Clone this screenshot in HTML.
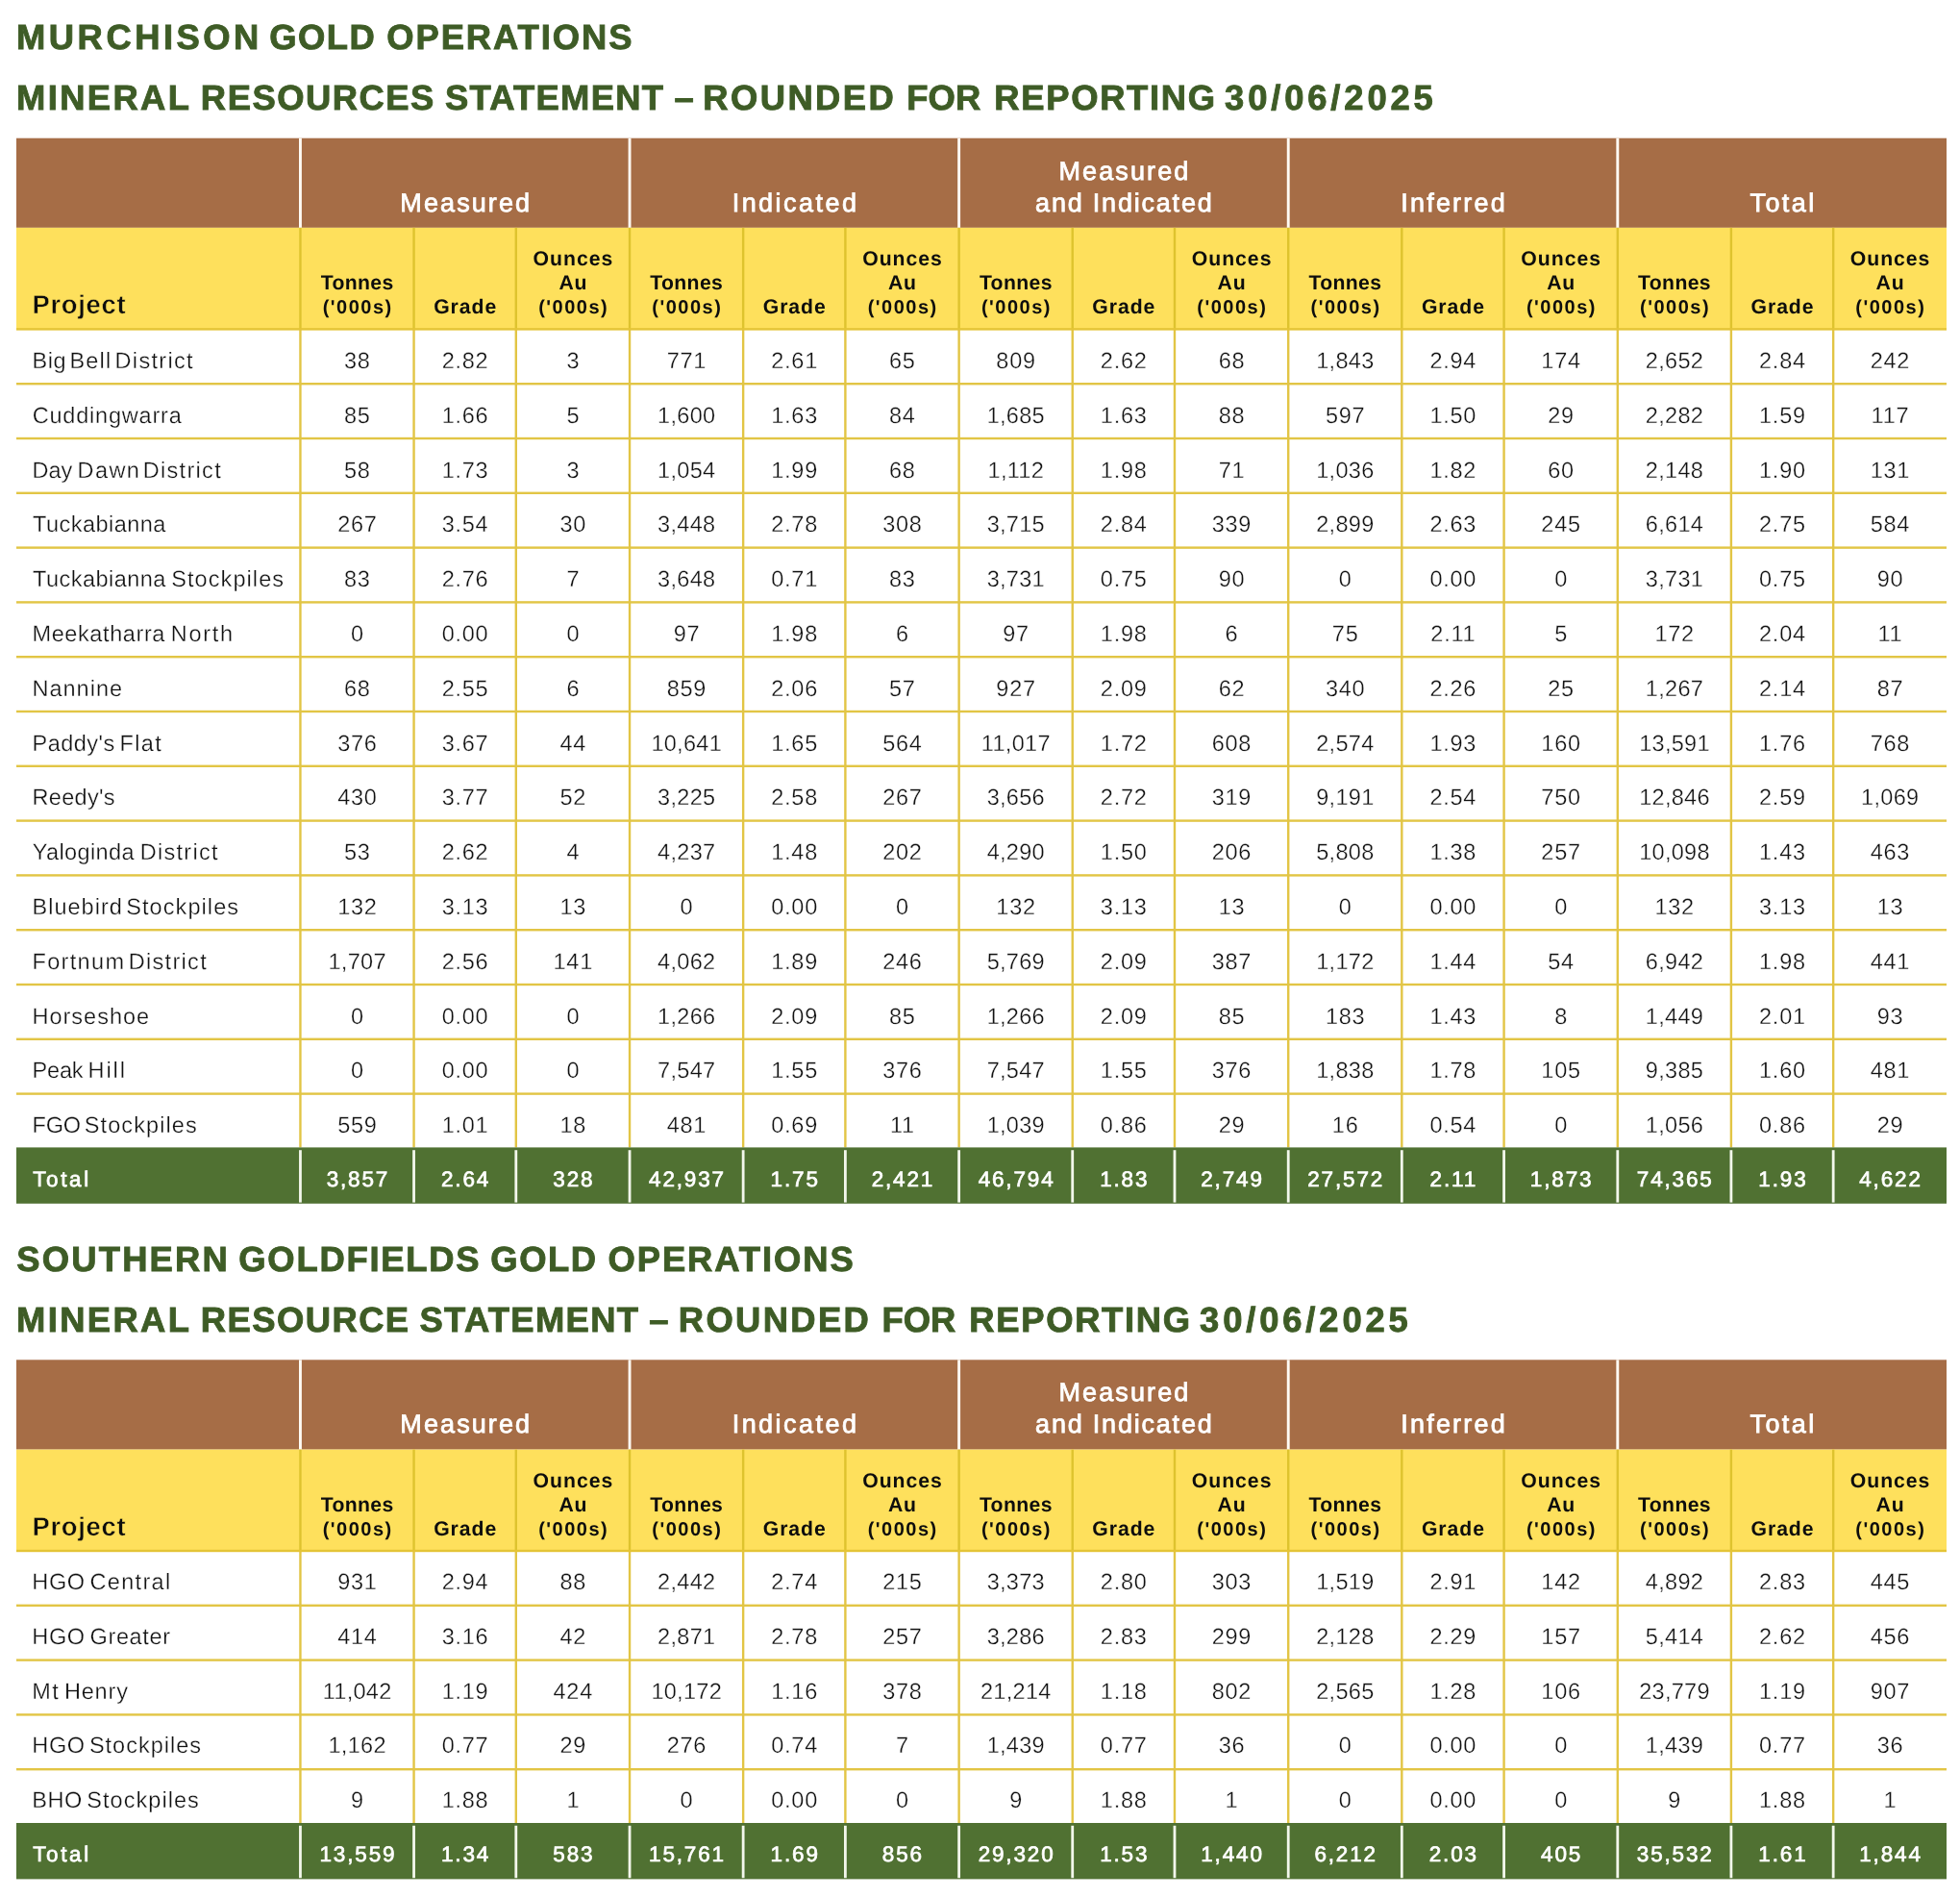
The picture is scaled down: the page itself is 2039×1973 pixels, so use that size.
<!DOCTYPE html>
<html lang="en">
<head>
<meta charset="utf-8">
<title>Mineral Resources Statement</title>
<style>
html,body{margin:0;padding:0;background:#fff;}
body{width:2039px;height:1973px;position:relative;overflow:hidden;font-family:"Liberation Sans",sans-serif;}
svg{position:absolute;left:0;top:0;}
#t{position:absolute;left:0;top:0;width:2039px;height:1973px;will-change:transform;text-rendering:geometricPrecision;}
#t div{position:absolute;white-space:nowrap;}
.h{font-size:36.4px;line-height:45px;height:45px;font-weight:bold;color:#3E5C26;-webkit-text-stroke:0.9px #3E5C26;}
.g{font-size:27.0px;line-height:34px;height:34px;color:#fff;text-align:center;-webkit-text-stroke:0.8px #fff;}
.p{font-size:27.4px;line-height:32px;height:32px;font-weight:bold;color:#0d0d0d;-webkit-text-stroke:0.5px #FEE05C;}
.y{font-size:20.0px;line-height:26px;height:26px;font-weight:bold;color:#0d0d0d;text-align:center;}
.z{font-size:21.2px;line-height:26px;height:26px;font-weight:bold;color:#0d0d0d;text-align:center;}
.n{font-size:23.5px;line-height:28px;height:28px;color:#111111;letter-spacing:0.65px;-webkit-text-stroke:0.3px #fff;}
.v{font-size:23.5px;line-height:28px;height:28px;color:#111111;text-align:center;letter-spacing:0.7px;text-indent:0.7px;-webkit-text-stroke:0.3px #fff;}
.tn{font-size:22.5px;line-height:28px;height:28px;color:#fff;-webkit-text-stroke:0.7px #fff;}
.tv{font-size:22.5px;line-height:28px;height:28px;color:#fff;-webkit-text-stroke:0.7px #fff;text-align:center;letter-spacing:1.85px;text-indent:1.85px;}
</style>
</head>
<body>
<svg width="2039" height="1973" viewBox="0 0 2039 1973">
<rect x="17" y="143.7" width="2008" height="93.15" fill="#A66D46"/>
<rect x="17" y="236.85" width="2008" height="105.55" fill="#FEE05C"/>
<rect x="311" y="143.7" width="2.9" height="93.15" fill="#FFFBF4"/>
<rect x="653.59" y="143.7" width="2.9" height="93.15" fill="#FFFBF4"/>
<rect x="996.18" y="143.7" width="2.9" height="93.15" fill="#FFFBF4"/>
<rect x="1338.77" y="143.7" width="2.9" height="93.15" fill="#FFFBF4"/>
<rect x="1681.36" y="143.7" width="2.9" height="93.15" fill="#FFFBF4"/>
<rect x="311.25" y="236.85" width="2.4" height="105.55" fill="#DEC32E"/>
<rect x="311.25" y="342.4" width="2.4" height="851" fill="#E2C545"/>
<rect x="429.35" y="236.85" width="2.4" height="105.55" fill="#DEC32E"/>
<rect x="429.35" y="342.4" width="2.4" height="851" fill="#E2C545"/>
<rect x="535.6" y="236.85" width="2.4" height="105.55" fill="#DEC32E"/>
<rect x="535.6" y="342.4" width="2.4" height="851" fill="#E2C545"/>
<rect x="653.84" y="236.85" width="2.4" height="105.55" fill="#DEC32E"/>
<rect x="653.84" y="342.4" width="2.4" height="851" fill="#E2C545"/>
<rect x="771.94" y="236.85" width="2.4" height="105.55" fill="#DEC32E"/>
<rect x="771.94" y="342.4" width="2.4" height="851" fill="#E2C545"/>
<rect x="878.19" y="236.85" width="2.4" height="105.55" fill="#DEC32E"/>
<rect x="878.19" y="342.4" width="2.4" height="851" fill="#E2C545"/>
<rect x="996.43" y="236.85" width="2.4" height="105.55" fill="#DEC32E"/>
<rect x="996.43" y="342.4" width="2.4" height="851" fill="#E2C545"/>
<rect x="1114.53" y="236.85" width="2.4" height="105.55" fill="#DEC32E"/>
<rect x="1114.53" y="342.4" width="2.4" height="851" fill="#E2C545"/>
<rect x="1220.78" y="236.85" width="2.4" height="105.55" fill="#DEC32E"/>
<rect x="1220.78" y="342.4" width="2.4" height="851" fill="#E2C545"/>
<rect x="1339.02" y="236.85" width="2.4" height="105.55" fill="#DEC32E"/>
<rect x="1339.02" y="342.4" width="2.4" height="851" fill="#E2C545"/>
<rect x="1457.12" y="236.85" width="2.4" height="105.55" fill="#DEC32E"/>
<rect x="1457.12" y="342.4" width="2.4" height="851" fill="#E2C545"/>
<rect x="1563.37" y="236.85" width="2.4" height="105.55" fill="#DEC32E"/>
<rect x="1563.37" y="342.4" width="2.4" height="851" fill="#E2C545"/>
<rect x="1681.61" y="236.85" width="2.4" height="105.55" fill="#DEC32E"/>
<rect x="1681.61" y="342.4" width="2.4" height="851" fill="#E2C545"/>
<rect x="1799.71" y="236.85" width="2.4" height="105.55" fill="#DEC32E"/>
<rect x="1799.71" y="342.4" width="2.4" height="851" fill="#E2C545"/>
<rect x="1905.96" y="236.85" width="2.4" height="105.55" fill="#DEC32E"/>
<rect x="1905.96" y="342.4" width="2.4" height="851" fill="#E2C545"/>
<rect x="17" y="341.2" width="2008" height="2.4" fill="#E4C436"/>
<rect x="17" y="398" width="2008" height="2.4" fill="#E2C545"/>
<rect x="17" y="454.8" width="2008" height="2.4" fill="#E2C545"/>
<rect x="17" y="511.6" width="2008" height="2.4" fill="#E2C545"/>
<rect x="17" y="568.4" width="2008" height="2.4" fill="#E2C545"/>
<rect x="17" y="625.2" width="2008" height="2.4" fill="#E2C545"/>
<rect x="17" y="682" width="2008" height="2.4" fill="#E2C545"/>
<rect x="17" y="738.8" width="2008" height="2.4" fill="#E2C545"/>
<rect x="17" y="795.6" width="2008" height="2.4" fill="#E2C545"/>
<rect x="17" y="852.4" width="2008" height="2.4" fill="#E2C545"/>
<rect x="17" y="909.2" width="2008" height="2.4" fill="#E2C545"/>
<rect x="17" y="966" width="2008" height="2.4" fill="#E2C545"/>
<rect x="17" y="1022.8" width="2008" height="2.4" fill="#E2C545"/>
<rect x="17" y="1079.6" width="2008" height="2.4" fill="#E2C545"/>
<rect x="17" y="1136.4" width="2008" height="2.4" fill="#E2C545"/>
<rect x="17" y="1193.4" width="2008" height="58.4" fill="#507132"/>
<rect x="311.05" y="1196.2" width="2.8" height="54.4" fill="#F3F7EC"/>
<rect x="429.15" y="1196.2" width="2.8" height="54.4" fill="#F3F7EC"/>
<rect x="535.4" y="1196.2" width="2.8" height="54.4" fill="#F3F7EC"/>
<rect x="653.64" y="1196.2" width="2.8" height="54.4" fill="#F3F7EC"/>
<rect x="771.74" y="1196.2" width="2.8" height="54.4" fill="#F3F7EC"/>
<rect x="877.99" y="1196.2" width="2.8" height="54.4" fill="#F3F7EC"/>
<rect x="996.23" y="1196.2" width="2.8" height="54.4" fill="#F3F7EC"/>
<rect x="1114.33" y="1196.2" width="2.8" height="54.4" fill="#F3F7EC"/>
<rect x="1220.58" y="1196.2" width="2.8" height="54.4" fill="#F3F7EC"/>
<rect x="1338.82" y="1196.2" width="2.8" height="54.4" fill="#F3F7EC"/>
<rect x="1456.92" y="1196.2" width="2.8" height="54.4" fill="#F3F7EC"/>
<rect x="1563.17" y="1196.2" width="2.8" height="54.4" fill="#F3F7EC"/>
<rect x="1681.41" y="1196.2" width="2.8" height="54.4" fill="#F3F7EC"/>
<rect x="1799.51" y="1196.2" width="2.8" height="54.4" fill="#F3F7EC"/>
<rect x="1905.76" y="1196.2" width="2.8" height="54.4" fill="#F3F7EC"/>
<rect x="17" y="1414.3" width="2008" height="93.3" fill="#A66D46"/>
<rect x="17" y="1507.6" width="2008" height="105.4" fill="#FEE05C"/>
<rect x="311" y="1414.3" width="2.9" height="93.3" fill="#FFFBF4"/>
<rect x="653.59" y="1414.3" width="2.9" height="93.3" fill="#FFFBF4"/>
<rect x="996.18" y="1414.3" width="2.9" height="93.3" fill="#FFFBF4"/>
<rect x="1338.77" y="1414.3" width="2.9" height="93.3" fill="#FFFBF4"/>
<rect x="1681.36" y="1414.3" width="2.9" height="93.3" fill="#FFFBF4"/>
<rect x="311.25" y="1507.6" width="2.4" height="105.4" fill="#DEC32E"/>
<rect x="311.25" y="1613" width="2.4" height="283" fill="#E2C545"/>
<rect x="429.35" y="1507.6" width="2.4" height="105.4" fill="#DEC32E"/>
<rect x="429.35" y="1613" width="2.4" height="283" fill="#E2C545"/>
<rect x="535.6" y="1507.6" width="2.4" height="105.4" fill="#DEC32E"/>
<rect x="535.6" y="1613" width="2.4" height="283" fill="#E2C545"/>
<rect x="653.84" y="1507.6" width="2.4" height="105.4" fill="#DEC32E"/>
<rect x="653.84" y="1613" width="2.4" height="283" fill="#E2C545"/>
<rect x="771.94" y="1507.6" width="2.4" height="105.4" fill="#DEC32E"/>
<rect x="771.94" y="1613" width="2.4" height="283" fill="#E2C545"/>
<rect x="878.19" y="1507.6" width="2.4" height="105.4" fill="#DEC32E"/>
<rect x="878.19" y="1613" width="2.4" height="283" fill="#E2C545"/>
<rect x="996.43" y="1507.6" width="2.4" height="105.4" fill="#DEC32E"/>
<rect x="996.43" y="1613" width="2.4" height="283" fill="#E2C545"/>
<rect x="1114.53" y="1507.6" width="2.4" height="105.4" fill="#DEC32E"/>
<rect x="1114.53" y="1613" width="2.4" height="283" fill="#E2C545"/>
<rect x="1220.78" y="1507.6" width="2.4" height="105.4" fill="#DEC32E"/>
<rect x="1220.78" y="1613" width="2.4" height="283" fill="#E2C545"/>
<rect x="1339.02" y="1507.6" width="2.4" height="105.4" fill="#DEC32E"/>
<rect x="1339.02" y="1613" width="2.4" height="283" fill="#E2C545"/>
<rect x="1457.12" y="1507.6" width="2.4" height="105.4" fill="#DEC32E"/>
<rect x="1457.12" y="1613" width="2.4" height="283" fill="#E2C545"/>
<rect x="1563.37" y="1507.6" width="2.4" height="105.4" fill="#DEC32E"/>
<rect x="1563.37" y="1613" width="2.4" height="283" fill="#E2C545"/>
<rect x="1681.61" y="1507.6" width="2.4" height="105.4" fill="#DEC32E"/>
<rect x="1681.61" y="1613" width="2.4" height="283" fill="#E2C545"/>
<rect x="1799.71" y="1507.6" width="2.4" height="105.4" fill="#DEC32E"/>
<rect x="1799.71" y="1613" width="2.4" height="283" fill="#E2C545"/>
<rect x="1905.96" y="1507.6" width="2.4" height="105.4" fill="#DEC32E"/>
<rect x="1905.96" y="1613" width="2.4" height="283" fill="#E2C545"/>
<rect x="17" y="1611.8" width="2008" height="2.4" fill="#E4C436"/>
<rect x="17" y="1668.6" width="2008" height="2.4" fill="#E2C545"/>
<rect x="17" y="1725.4" width="2008" height="2.4" fill="#E2C545"/>
<rect x="17" y="1782.2" width="2008" height="2.4" fill="#E2C545"/>
<rect x="17" y="1839" width="2008" height="2.4" fill="#E2C545"/>
<rect x="17" y="1896" width="2008" height="58.4" fill="#507132"/>
<rect x="311.05" y="1898.8" width="2.8" height="54.4" fill="#F3F7EC"/>
<rect x="429.15" y="1898.8" width="2.8" height="54.4" fill="#F3F7EC"/>
<rect x="535.4" y="1898.8" width="2.8" height="54.4" fill="#F3F7EC"/>
<rect x="653.64" y="1898.8" width="2.8" height="54.4" fill="#F3F7EC"/>
<rect x="771.74" y="1898.8" width="2.8" height="54.4" fill="#F3F7EC"/>
<rect x="877.99" y="1898.8" width="2.8" height="54.4" fill="#F3F7EC"/>
<rect x="996.23" y="1898.8" width="2.8" height="54.4" fill="#F3F7EC"/>
<rect x="1114.33" y="1898.8" width="2.8" height="54.4" fill="#F3F7EC"/>
<rect x="1220.58" y="1898.8" width="2.8" height="54.4" fill="#F3F7EC"/>
<rect x="1338.82" y="1898.8" width="2.8" height="54.4" fill="#F3F7EC"/>
<rect x="1456.92" y="1898.8" width="2.8" height="54.4" fill="#F3F7EC"/>
<rect x="1563.17" y="1898.8" width="2.8" height="54.4" fill="#F3F7EC"/>
<rect x="1681.41" y="1898.8" width="2.8" height="54.4" fill="#F3F7EC"/>
<rect x="1799.51" y="1898.8" width="2.8" height="54.4" fill="#F3F7EC"/>
<rect x="1905.76" y="1898.8" width="2.8" height="54.4" fill="#F3F7EC"/>
</svg>
<div id="t">
<div class="h" style="left:17.07px;top:16px;letter-spacing:3.48px;">MURCHISON</div>
<div class="h" style="left:280.13px;top:16px;letter-spacing:1.54px;">GOLD</div>
<div class="h" style="left:402.24px;top:16px;letter-spacing:1.93px;">OPERATIONS</div>
<div class="h" style="left:17.07px;top:79px;letter-spacing:2.36px;">MINERAL</div>
<div class="h" style="left:208.87px;top:79px;letter-spacing:1.49px;">RESOURCES</div>
<div class="h" style="left:462.96px;top:79px;letter-spacing:1.25px;">STATEMENT</div>
<div class="h" style="left:701.54px;top:79px;letter-spacing:0px;">–</div>
<div class="h" style="left:731.37px;top:79px;letter-spacing:2.4px;">ROUNDED</div>
<div class="h" style="left:943.37px;top:79px;letter-spacing:0px;">FOR</div>
<div class="h" style="left:1034.37px;top:79px;letter-spacing:1.66px;">REPORTING</div>
<div class="h" style="left:1274.05px;top:79px;letter-spacing:3.85px;">30/06/2025</div>
<div class="g" style="left:312.45px;top:194px;width:342.59px;letter-spacing:2.1px;text-indent:2.1px;">Measured</div>
<div class="g" style="left:655.04px;top:194px;width:342.59px;letter-spacing:2.46px;text-indent:2.46px;">Indicated</div>
<div class="g" style="left:997.63px;top:161px;width:342.59px;letter-spacing:2.1px;text-indent:2.1px;">Measured</div>
<div class="g" style="left:997.63px;top:194px;width:342.59px;letter-spacing:1.79px;text-indent:1.79px;">and Indicated</div>
<div class="g" style="left:1340.22px;top:194px;width:342.59px;letter-spacing:2.19px;text-indent:2.19px;">Inferred</div>
<div class="g" style="left:1682.81px;top:194px;width:342.19px;letter-spacing:2.45px;text-indent:2.45px;">Total</div>
<div class="p" style="left:33.42px;top:301px;letter-spacing:0.73px;">Project</div>
<div class="z" style="left:312.45px;top:282px;width:118.1px;letter-spacing:0.36px;text-indent:0.36px;">Tonnes</div>
<div class="y" style="left:312.45px;top:307px;width:118.1px;letter-spacing:1.5px;text-indent:1.5px;">('000s)</div>
<div class="z" style="left:430.55px;top:307px;width:106.25px;letter-spacing:0.95px;text-indent:0.95px;">Grade</div>
<div class="z" style="left:536.8px;top:257px;width:118.24px;letter-spacing:0.99px;text-indent:0.99px;">Ounces</div>
<div class="z" style="left:536.8px;top:282px;width:118.24px;letter-spacing:0.78px;text-indent:0.78px;">Au</div>
<div class="y" style="left:536.8px;top:307px;width:118.24px;letter-spacing:1.5px;text-indent:1.5px;">('000s)</div>
<div class="z" style="left:655.04px;top:282px;width:118.1px;letter-spacing:0.36px;text-indent:0.36px;">Tonnes</div>
<div class="y" style="left:655.04px;top:307px;width:118.1px;letter-spacing:1.5px;text-indent:1.5px;">('000s)</div>
<div class="z" style="left:773.14px;top:307px;width:106.25px;letter-spacing:0.95px;text-indent:0.95px;">Grade</div>
<div class="z" style="left:879.39px;top:257px;width:118.24px;letter-spacing:0.99px;text-indent:0.99px;">Ounces</div>
<div class="z" style="left:879.39px;top:282px;width:118.24px;letter-spacing:0.78px;text-indent:0.78px;">Au</div>
<div class="y" style="left:879.39px;top:307px;width:118.24px;letter-spacing:1.5px;text-indent:1.5px;">('000s)</div>
<div class="z" style="left:997.63px;top:282px;width:118.1px;letter-spacing:0.36px;text-indent:0.36px;">Tonnes</div>
<div class="y" style="left:997.63px;top:307px;width:118.1px;letter-spacing:1.5px;text-indent:1.5px;">('000s)</div>
<div class="z" style="left:1115.73px;top:307px;width:106.25px;letter-spacing:0.95px;text-indent:0.95px;">Grade</div>
<div class="z" style="left:1221.98px;top:257px;width:118.24px;letter-spacing:0.99px;text-indent:0.99px;">Ounces</div>
<div class="z" style="left:1221.98px;top:282px;width:118.24px;letter-spacing:0.78px;text-indent:0.78px;">Au</div>
<div class="y" style="left:1221.98px;top:307px;width:118.24px;letter-spacing:1.5px;text-indent:1.5px;">('000s)</div>
<div class="z" style="left:1340.22px;top:282px;width:118.1px;letter-spacing:0.36px;text-indent:0.36px;">Tonnes</div>
<div class="y" style="left:1340.22px;top:307px;width:118.1px;letter-spacing:1.5px;text-indent:1.5px;">('000s)</div>
<div class="z" style="left:1458.32px;top:307px;width:106.25px;letter-spacing:0.95px;text-indent:0.95px;">Grade</div>
<div class="z" style="left:1564.57px;top:257px;width:118.24px;letter-spacing:0.99px;text-indent:0.99px;">Ounces</div>
<div class="z" style="left:1564.57px;top:282px;width:118.24px;letter-spacing:0.78px;text-indent:0.78px;">Au</div>
<div class="y" style="left:1564.57px;top:307px;width:118.24px;letter-spacing:1.5px;text-indent:1.5px;">('000s)</div>
<div class="z" style="left:1682.81px;top:282px;width:118.1px;letter-spacing:0.36px;text-indent:0.36px;">Tonnes</div>
<div class="y" style="left:1682.81px;top:307px;width:118.1px;letter-spacing:1.5px;text-indent:1.5px;">('000s)</div>
<div class="z" style="left:1800.91px;top:307px;width:106.25px;letter-spacing:0.95px;text-indent:0.95px;">Grade</div>
<div class="z" style="left:1907.16px;top:257px;width:117.84px;letter-spacing:0.99px;text-indent:0.99px;">Ounces</div>
<div class="z" style="left:1907.16px;top:282px;width:117.84px;letter-spacing:0.78px;text-indent:0.78px;">Au</div>
<div class="y" style="left:1907.16px;top:307px;width:117.84px;letter-spacing:1.5px;text-indent:1.5px;">('000s)</div>
<div class="n" style="left:33.48px;top:361px;letter-spacing:0.62px;">Big</div>
<div class="n" style="left:72.48px;top:361px;letter-spacing:1.19px;">Bell</div>
<div class="n" style="left:119.58px;top:361px;letter-spacing:1.32px;">District</div>
<div class="v" style="left:312.45px;top:361px;width:118.1px;letter-spacing:0.75px;text-indent:0.75px;">38</div>
<div class="v" style="left:430.55px;top:361px;width:106.25px;letter-spacing:0.75px;text-indent:0.75px;">2.82</div>
<div class="v" style="left:536.8px;top:361px;width:118.24px;letter-spacing:0.75px;text-indent:0.75px;">3</div>
<div class="v" style="left:655.04px;top:361px;width:118.1px;letter-spacing:0.75px;text-indent:0.75px;">771</div>
<div class="v" style="left:773.14px;top:361px;width:106.25px;letter-spacing:0.75px;text-indent:0.75px;">2.61</div>
<div class="v" style="left:879.39px;top:361px;width:118.24px;letter-spacing:0.75px;text-indent:0.75px;">65</div>
<div class="v" style="left:997.63px;top:361px;width:118.1px;letter-spacing:0.75px;text-indent:0.75px;">809</div>
<div class="v" style="left:1115.73px;top:361px;width:106.25px;letter-spacing:0.75px;text-indent:0.75px;">2.62</div>
<div class="v" style="left:1221.98px;top:361px;width:118.24px;letter-spacing:0.75px;text-indent:0.75px;">68</div>
<div class="v" style="left:1340.22px;top:361px;width:118.1px;letter-spacing:0.3px;text-indent:0.3px;">1,843</div>
<div class="v" style="left:1458.32px;top:361px;width:106.25px;letter-spacing:0.75px;text-indent:0.75px;">2.94</div>
<div class="v" style="left:1564.57px;top:361px;width:118.24px;letter-spacing:0.75px;text-indent:0.75px;">174</div>
<div class="v" style="left:1682.81px;top:361px;width:118.1px;letter-spacing:0.3px;text-indent:0.3px;">2,652</div>
<div class="v" style="left:1800.91px;top:361px;width:106.25px;letter-spacing:0.75px;text-indent:0.75px;">2.84</div>
<div class="v" style="left:1907.16px;top:361px;width:117.84px;letter-spacing:0.75px;text-indent:0.75px;">242</div>
<div class="n" style="left:33.63px;top:418px;letter-spacing:0.8px;">Cuddingwarra</div>
<div class="v" style="left:312.45px;top:418px;width:118.1px;letter-spacing:0.75px;text-indent:0.75px;">85</div>
<div class="v" style="left:430.55px;top:418px;width:106.25px;letter-spacing:0.75px;text-indent:0.75px;">1.66</div>
<div class="v" style="left:536.8px;top:418px;width:118.24px;letter-spacing:0.75px;text-indent:0.75px;">5</div>
<div class="v" style="left:655.04px;top:418px;width:118.1px;letter-spacing:0.3px;text-indent:0.3px;">1,600</div>
<div class="v" style="left:773.14px;top:418px;width:106.25px;letter-spacing:0.75px;text-indent:0.75px;">1.63</div>
<div class="v" style="left:879.39px;top:418px;width:118.24px;letter-spacing:0.75px;text-indent:0.75px;">84</div>
<div class="v" style="left:997.63px;top:418px;width:118.1px;letter-spacing:0.3px;text-indent:0.3px;">1,685</div>
<div class="v" style="left:1115.73px;top:418px;width:106.25px;letter-spacing:0.75px;text-indent:0.75px;">1.63</div>
<div class="v" style="left:1221.98px;top:418px;width:118.24px;letter-spacing:0.75px;text-indent:0.75px;">88</div>
<div class="v" style="left:1340.22px;top:418px;width:118.1px;letter-spacing:0.75px;text-indent:0.75px;">597</div>
<div class="v" style="left:1458.32px;top:418px;width:106.25px;letter-spacing:0.75px;text-indent:0.75px;">1.50</div>
<div class="v" style="left:1564.57px;top:418px;width:118.24px;letter-spacing:0.75px;text-indent:0.75px;">29</div>
<div class="v" style="left:1682.81px;top:418px;width:118.1px;letter-spacing:0.3px;text-indent:0.3px;">2,282</div>
<div class="v" style="left:1800.91px;top:418px;width:106.25px;letter-spacing:0.75px;text-indent:0.75px;">1.59</div>
<div class="v" style="left:1907.16px;top:418px;width:117.84px;letter-spacing:0.75px;text-indent:0.75px;">117</div>
<div class="n" style="left:33.48px;top:475px;letter-spacing:0.05px;">Day</div>
<div class="n" style="left:80.58px;top:475px;letter-spacing:1.39px;">Dawn</div>
<div class="n" style="left:148.68px;top:475px;letter-spacing:1.32px;">District</div>
<div class="v" style="left:312.45px;top:475px;width:118.1px;letter-spacing:0.75px;text-indent:0.75px;">58</div>
<div class="v" style="left:430.55px;top:475px;width:106.25px;letter-spacing:0.75px;text-indent:0.75px;">1.73</div>
<div class="v" style="left:536.8px;top:475px;width:118.24px;letter-spacing:0.75px;text-indent:0.75px;">3</div>
<div class="v" style="left:655.04px;top:475px;width:118.1px;letter-spacing:0.3px;text-indent:0.3px;">1,054</div>
<div class="v" style="left:773.14px;top:475px;width:106.25px;letter-spacing:0.75px;text-indent:0.75px;">1.99</div>
<div class="v" style="left:879.39px;top:475px;width:118.24px;letter-spacing:0.75px;text-indent:0.75px;">68</div>
<div class="v" style="left:997.63px;top:475px;width:118.1px;letter-spacing:0.3px;text-indent:0.3px;">1,112</div>
<div class="v" style="left:1115.73px;top:475px;width:106.25px;letter-spacing:0.75px;text-indent:0.75px;">1.98</div>
<div class="v" style="left:1221.98px;top:475px;width:118.24px;letter-spacing:0.75px;text-indent:0.75px;">71</div>
<div class="v" style="left:1340.22px;top:475px;width:118.1px;letter-spacing:0.3px;text-indent:0.3px;">1,036</div>
<div class="v" style="left:1458.32px;top:475px;width:106.25px;letter-spacing:0.75px;text-indent:0.75px;">1.82</div>
<div class="v" style="left:1564.57px;top:475px;width:118.24px;letter-spacing:0.75px;text-indent:0.75px;">60</div>
<div class="v" style="left:1682.81px;top:475px;width:118.1px;letter-spacing:0.3px;text-indent:0.3px;">2,148</div>
<div class="v" style="left:1800.91px;top:475px;width:106.25px;letter-spacing:0.75px;text-indent:0.75px;">1.90</div>
<div class="v" style="left:1907.16px;top:475px;width:117.84px;letter-spacing:0.75px;text-indent:0.75px;">131</div>
<div class="n" style="left:33.96px;top:531px;letter-spacing:0.47px;">Tuckabianna</div>
<div class="v" style="left:312.45px;top:531px;width:118.1px;letter-spacing:0.75px;text-indent:0.75px;">267</div>
<div class="v" style="left:430.55px;top:531px;width:106.25px;letter-spacing:0.75px;text-indent:0.75px;">3.54</div>
<div class="v" style="left:536.8px;top:531px;width:118.24px;letter-spacing:0.75px;text-indent:0.75px;">30</div>
<div class="v" style="left:655.04px;top:531px;width:118.1px;letter-spacing:0.3px;text-indent:0.3px;">3,448</div>
<div class="v" style="left:773.14px;top:531px;width:106.25px;letter-spacing:0.75px;text-indent:0.75px;">2.78</div>
<div class="v" style="left:879.39px;top:531px;width:118.24px;letter-spacing:0.75px;text-indent:0.75px;">308</div>
<div class="v" style="left:997.63px;top:531px;width:118.1px;letter-spacing:0.3px;text-indent:0.3px;">3,715</div>
<div class="v" style="left:1115.73px;top:531px;width:106.25px;letter-spacing:0.75px;text-indent:0.75px;">2.84</div>
<div class="v" style="left:1221.98px;top:531px;width:118.24px;letter-spacing:0.75px;text-indent:0.75px;">339</div>
<div class="v" style="left:1340.22px;top:531px;width:118.1px;letter-spacing:0.3px;text-indent:0.3px;">2,899</div>
<div class="v" style="left:1458.32px;top:531px;width:106.25px;letter-spacing:0.75px;text-indent:0.75px;">2.63</div>
<div class="v" style="left:1564.57px;top:531px;width:118.24px;letter-spacing:0.75px;text-indent:0.75px;">245</div>
<div class="v" style="left:1682.81px;top:531px;width:118.1px;letter-spacing:0.3px;text-indent:0.3px;">6,614</div>
<div class="v" style="left:1800.91px;top:531px;width:106.25px;letter-spacing:0.75px;text-indent:0.75px;">2.75</div>
<div class="v" style="left:1907.16px;top:531px;width:117.84px;letter-spacing:0.75px;text-indent:0.75px;">584</div>
<div class="n" style="left:33.96px;top:588px;letter-spacing:0.47px;">Tuckabianna</div>
<div class="n" style="left:178.25px;top:588px;letter-spacing:1.08px;">Stockpiles</div>
<div class="v" style="left:312.45px;top:588px;width:118.1px;letter-spacing:0.75px;text-indent:0.75px;">83</div>
<div class="v" style="left:430.55px;top:588px;width:106.25px;letter-spacing:0.75px;text-indent:0.75px;">2.76</div>
<div class="v" style="left:536.8px;top:588px;width:118.24px;letter-spacing:0.75px;text-indent:0.75px;">7</div>
<div class="v" style="left:655.04px;top:588px;width:118.1px;letter-spacing:0.3px;text-indent:0.3px;">3,648</div>
<div class="v" style="left:773.14px;top:588px;width:106.25px;letter-spacing:0.75px;text-indent:0.75px;">0.71</div>
<div class="v" style="left:879.39px;top:588px;width:118.24px;letter-spacing:0.75px;text-indent:0.75px;">83</div>
<div class="v" style="left:997.63px;top:588px;width:118.1px;letter-spacing:0.3px;text-indent:0.3px;">3,731</div>
<div class="v" style="left:1115.73px;top:588px;width:106.25px;letter-spacing:0.75px;text-indent:0.75px;">0.75</div>
<div class="v" style="left:1221.98px;top:588px;width:118.24px;letter-spacing:0.75px;text-indent:0.75px;">90</div>
<div class="v" style="left:1340.22px;top:588px;width:118.1px;letter-spacing:0.75px;text-indent:0.75px;">0</div>
<div class="v" style="left:1458.32px;top:588px;width:106.25px;letter-spacing:0.75px;text-indent:0.75px;">0.00</div>
<div class="v" style="left:1564.57px;top:588px;width:118.24px;letter-spacing:0.75px;text-indent:0.75px;">0</div>
<div class="v" style="left:1682.81px;top:588px;width:118.1px;letter-spacing:0.3px;text-indent:0.3px;">3,731</div>
<div class="v" style="left:1800.91px;top:588px;width:106.25px;letter-spacing:0.75px;text-indent:0.75px;">0.75</div>
<div class="v" style="left:1907.16px;top:588px;width:117.84px;letter-spacing:0.75px;text-indent:0.75px;">90</div>
<div class="n" style="left:33.48px;top:645px;letter-spacing:0.6px;">Meekatharra</div>
<div class="n" style="left:177.78px;top:645px;letter-spacing:1.68px;">North</div>
<div class="v" style="left:312.45px;top:645px;width:118.1px;letter-spacing:0.75px;text-indent:0.75px;">0</div>
<div class="v" style="left:430.55px;top:645px;width:106.25px;letter-spacing:0.75px;text-indent:0.75px;">0.00</div>
<div class="v" style="left:536.8px;top:645px;width:118.24px;letter-spacing:0.75px;text-indent:0.75px;">0</div>
<div class="v" style="left:655.04px;top:645px;width:118.1px;letter-spacing:0.75px;text-indent:0.75px;">97</div>
<div class="v" style="left:773.14px;top:645px;width:106.25px;letter-spacing:0.75px;text-indent:0.75px;">1.98</div>
<div class="v" style="left:879.39px;top:645px;width:118.24px;letter-spacing:0.75px;text-indent:0.75px;">6</div>
<div class="v" style="left:997.63px;top:645px;width:118.1px;letter-spacing:0.75px;text-indent:0.75px;">97</div>
<div class="v" style="left:1115.73px;top:645px;width:106.25px;letter-spacing:0.75px;text-indent:0.75px;">1.98</div>
<div class="v" style="left:1221.98px;top:645px;width:118.24px;letter-spacing:0.75px;text-indent:0.75px;">6</div>
<div class="v" style="left:1340.22px;top:645px;width:118.1px;letter-spacing:0.75px;text-indent:0.75px;">75</div>
<div class="v" style="left:1458.32px;top:645px;width:106.25px;letter-spacing:0.75px;text-indent:0.75px;">2.11</div>
<div class="v" style="left:1564.57px;top:645px;width:118.24px;letter-spacing:0.75px;text-indent:0.75px;">5</div>
<div class="v" style="left:1682.81px;top:645px;width:118.1px;letter-spacing:0.75px;text-indent:0.75px;">172</div>
<div class="v" style="left:1800.91px;top:645px;width:106.25px;letter-spacing:0.75px;text-indent:0.75px;">2.04</div>
<div class="v" style="left:1907.16px;top:645px;width:117.84px;letter-spacing:0.75px;text-indent:0.75px;">11</div>
<div class="n" style="left:33.48px;top:702px;letter-spacing:1.01px;">Nannine</div>
<div class="v" style="left:312.45px;top:702px;width:118.1px;letter-spacing:0.75px;text-indent:0.75px;">68</div>
<div class="v" style="left:430.55px;top:702px;width:106.25px;letter-spacing:0.75px;text-indent:0.75px;">2.55</div>
<div class="v" style="left:536.8px;top:702px;width:118.24px;letter-spacing:0.75px;text-indent:0.75px;">6</div>
<div class="v" style="left:655.04px;top:702px;width:118.1px;letter-spacing:0.75px;text-indent:0.75px;">859</div>
<div class="v" style="left:773.14px;top:702px;width:106.25px;letter-spacing:0.75px;text-indent:0.75px;">2.06</div>
<div class="v" style="left:879.39px;top:702px;width:118.24px;letter-spacing:0.75px;text-indent:0.75px;">57</div>
<div class="v" style="left:997.63px;top:702px;width:118.1px;letter-spacing:0.75px;text-indent:0.75px;">927</div>
<div class="v" style="left:1115.73px;top:702px;width:106.25px;letter-spacing:0.75px;text-indent:0.75px;">2.09</div>
<div class="v" style="left:1221.98px;top:702px;width:118.24px;letter-spacing:0.75px;text-indent:0.75px;">62</div>
<div class="v" style="left:1340.22px;top:702px;width:118.1px;letter-spacing:0.75px;text-indent:0.75px;">340</div>
<div class="v" style="left:1458.32px;top:702px;width:106.25px;letter-spacing:0.75px;text-indent:0.75px;">2.26</div>
<div class="v" style="left:1564.57px;top:702px;width:118.24px;letter-spacing:0.75px;text-indent:0.75px;">25</div>
<div class="v" style="left:1682.81px;top:702px;width:118.1px;letter-spacing:0.3px;text-indent:0.3px;">1,267</div>
<div class="v" style="left:1800.91px;top:702px;width:106.25px;letter-spacing:0.75px;text-indent:0.75px;">2.14</div>
<div class="v" style="left:1907.16px;top:702px;width:117.84px;letter-spacing:0.75px;text-indent:0.75px;">87</div>
<div class="n" style="left:33.48px;top:759px;letter-spacing:0.5px;">Paddy's</div>
<div class="n" style="left:124.48px;top:759px;letter-spacing:1.4px;">Flat</div>
<div class="v" style="left:312.45px;top:759px;width:118.1px;letter-spacing:0.75px;text-indent:0.75px;">376</div>
<div class="v" style="left:430.55px;top:759px;width:106.25px;letter-spacing:0.75px;text-indent:0.75px;">3.67</div>
<div class="v" style="left:536.8px;top:759px;width:118.24px;letter-spacing:0.75px;text-indent:0.75px;">44</div>
<div class="v" style="left:655.04px;top:759px;width:118.1px;letter-spacing:0.3px;text-indent:0.3px;">10,641</div>
<div class="v" style="left:773.14px;top:759px;width:106.25px;letter-spacing:0.75px;text-indent:0.75px;">1.65</div>
<div class="v" style="left:879.39px;top:759px;width:118.24px;letter-spacing:0.75px;text-indent:0.75px;">564</div>
<div class="v" style="left:997.63px;top:759px;width:118.1px;letter-spacing:0.3px;text-indent:0.3px;">11,017</div>
<div class="v" style="left:1115.73px;top:759px;width:106.25px;letter-spacing:0.75px;text-indent:0.75px;">1.72</div>
<div class="v" style="left:1221.98px;top:759px;width:118.24px;letter-spacing:0.75px;text-indent:0.75px;">608</div>
<div class="v" style="left:1340.22px;top:759px;width:118.1px;letter-spacing:0.3px;text-indent:0.3px;">2,574</div>
<div class="v" style="left:1458.32px;top:759px;width:106.25px;letter-spacing:0.75px;text-indent:0.75px;">1.93</div>
<div class="v" style="left:1564.57px;top:759px;width:118.24px;letter-spacing:0.75px;text-indent:0.75px;">160</div>
<div class="v" style="left:1682.81px;top:759px;width:118.1px;letter-spacing:0.3px;text-indent:0.3px;">13,591</div>
<div class="v" style="left:1800.91px;top:759px;width:106.25px;letter-spacing:0.75px;text-indent:0.75px;">1.76</div>
<div class="v" style="left:1907.16px;top:759px;width:117.84px;letter-spacing:0.75px;text-indent:0.75px;">768</div>
<div class="n" style="left:33.48px;top:815px;letter-spacing:0.33px;">Reedy's</div>
<div class="v" style="left:312.45px;top:815px;width:118.1px;letter-spacing:0.75px;text-indent:0.75px;">430</div>
<div class="v" style="left:430.55px;top:815px;width:106.25px;letter-spacing:0.75px;text-indent:0.75px;">3.77</div>
<div class="v" style="left:536.8px;top:815px;width:118.24px;letter-spacing:0.75px;text-indent:0.75px;">52</div>
<div class="v" style="left:655.04px;top:815px;width:118.1px;letter-spacing:0.3px;text-indent:0.3px;">3,225</div>
<div class="v" style="left:773.14px;top:815px;width:106.25px;letter-spacing:0.75px;text-indent:0.75px;">2.58</div>
<div class="v" style="left:879.39px;top:815px;width:118.24px;letter-spacing:0.75px;text-indent:0.75px;">267</div>
<div class="v" style="left:997.63px;top:815px;width:118.1px;letter-spacing:0.3px;text-indent:0.3px;">3,656</div>
<div class="v" style="left:1115.73px;top:815px;width:106.25px;letter-spacing:0.75px;text-indent:0.75px;">2.72</div>
<div class="v" style="left:1221.98px;top:815px;width:118.24px;letter-spacing:0.75px;text-indent:0.75px;">319</div>
<div class="v" style="left:1340.22px;top:815px;width:118.1px;letter-spacing:0.3px;text-indent:0.3px;">9,191</div>
<div class="v" style="left:1458.32px;top:815px;width:106.25px;letter-spacing:0.75px;text-indent:0.75px;">2.54</div>
<div class="v" style="left:1564.57px;top:815px;width:118.24px;letter-spacing:0.75px;text-indent:0.75px;">750</div>
<div class="v" style="left:1682.81px;top:815px;width:118.1px;letter-spacing:0.3px;text-indent:0.3px;">12,846</div>
<div class="v" style="left:1800.91px;top:815px;width:106.25px;letter-spacing:0.75px;text-indent:0.75px;">2.59</div>
<div class="v" style="left:1907.16px;top:815px;width:117.84px;letter-spacing:0.3px;text-indent:0.3px;">1,069</div>
<div class="n" style="left:33.7px;top:872px;letter-spacing:0.38px;">Yaloginda</div>
<div class="n" style="left:145.68px;top:872px;letter-spacing:1.3px;">District</div>
<div class="v" style="left:312.45px;top:872px;width:118.1px;letter-spacing:0.75px;text-indent:0.75px;">53</div>
<div class="v" style="left:430.55px;top:872px;width:106.25px;letter-spacing:0.75px;text-indent:0.75px;">2.62</div>
<div class="v" style="left:536.8px;top:872px;width:118.24px;letter-spacing:0.75px;text-indent:0.75px;">4</div>
<div class="v" style="left:655.04px;top:872px;width:118.1px;letter-spacing:0.3px;text-indent:0.3px;">4,237</div>
<div class="v" style="left:773.14px;top:872px;width:106.25px;letter-spacing:0.75px;text-indent:0.75px;">1.48</div>
<div class="v" style="left:879.39px;top:872px;width:118.24px;letter-spacing:0.75px;text-indent:0.75px;">202</div>
<div class="v" style="left:997.63px;top:872px;width:118.1px;letter-spacing:0.3px;text-indent:0.3px;">4,290</div>
<div class="v" style="left:1115.73px;top:872px;width:106.25px;letter-spacing:0.75px;text-indent:0.75px;">1.50</div>
<div class="v" style="left:1221.98px;top:872px;width:118.24px;letter-spacing:0.75px;text-indent:0.75px;">206</div>
<div class="v" style="left:1340.22px;top:872px;width:118.1px;letter-spacing:0.3px;text-indent:0.3px;">5,808</div>
<div class="v" style="left:1458.32px;top:872px;width:106.25px;letter-spacing:0.75px;text-indent:0.75px;">1.38</div>
<div class="v" style="left:1564.57px;top:872px;width:118.24px;letter-spacing:0.75px;text-indent:0.75px;">257</div>
<div class="v" style="left:1682.81px;top:872px;width:118.1px;letter-spacing:0.3px;text-indent:0.3px;">10,098</div>
<div class="v" style="left:1800.91px;top:872px;width:106.25px;letter-spacing:0.75px;text-indent:0.75px;">1.43</div>
<div class="v" style="left:1907.16px;top:872px;width:117.84px;letter-spacing:0.75px;text-indent:0.75px;">463</div>
<div class="n" style="left:33.48px;top:929px;letter-spacing:1.02px;">Bluebird</div>
<div class="n" style="left:131.25px;top:929px;letter-spacing:1.08px;">Stockpiles</div>
<div class="v" style="left:312.45px;top:929px;width:118.1px;letter-spacing:0.75px;text-indent:0.75px;">132</div>
<div class="v" style="left:430.55px;top:929px;width:106.25px;letter-spacing:0.75px;text-indent:0.75px;">3.13</div>
<div class="v" style="left:536.8px;top:929px;width:118.24px;letter-spacing:0.75px;text-indent:0.75px;">13</div>
<div class="v" style="left:655.04px;top:929px;width:118.1px;letter-spacing:0.75px;text-indent:0.75px;">0</div>
<div class="v" style="left:773.14px;top:929px;width:106.25px;letter-spacing:0.75px;text-indent:0.75px;">0.00</div>
<div class="v" style="left:879.39px;top:929px;width:118.24px;letter-spacing:0.75px;text-indent:0.75px;">0</div>
<div class="v" style="left:997.63px;top:929px;width:118.1px;letter-spacing:0.75px;text-indent:0.75px;">132</div>
<div class="v" style="left:1115.73px;top:929px;width:106.25px;letter-spacing:0.75px;text-indent:0.75px;">3.13</div>
<div class="v" style="left:1221.98px;top:929px;width:118.24px;letter-spacing:0.75px;text-indent:0.75px;">13</div>
<div class="v" style="left:1340.22px;top:929px;width:118.1px;letter-spacing:0.75px;text-indent:0.75px;">0</div>
<div class="v" style="left:1458.32px;top:929px;width:106.25px;letter-spacing:0.75px;text-indent:0.75px;">0.00</div>
<div class="v" style="left:1564.57px;top:929px;width:118.24px;letter-spacing:0.75px;text-indent:0.75px;">0</div>
<div class="v" style="left:1682.81px;top:929px;width:118.1px;letter-spacing:0.75px;text-indent:0.75px;">132</div>
<div class="v" style="left:1800.91px;top:929px;width:106.25px;letter-spacing:0.75px;text-indent:0.75px;">3.13</div>
<div class="v" style="left:1907.16px;top:929px;width:117.84px;letter-spacing:0.75px;text-indent:0.75px;">13</div>
<div class="n" style="left:33.48px;top:986px;letter-spacing:1.34px;">Fortnum</div>
<div class="n" style="left:133.68px;top:986px;letter-spacing:1.32px;">District</div>
<div class="v" style="left:312.45px;top:986px;width:118.1px;letter-spacing:0.3px;text-indent:0.3px;">1,707</div>
<div class="v" style="left:430.55px;top:986px;width:106.25px;letter-spacing:0.75px;text-indent:0.75px;">2.56</div>
<div class="v" style="left:536.8px;top:986px;width:118.24px;letter-spacing:0.75px;text-indent:0.75px;">141</div>
<div class="v" style="left:655.04px;top:986px;width:118.1px;letter-spacing:0.3px;text-indent:0.3px;">4,062</div>
<div class="v" style="left:773.14px;top:986px;width:106.25px;letter-spacing:0.75px;text-indent:0.75px;">1.89</div>
<div class="v" style="left:879.39px;top:986px;width:118.24px;letter-spacing:0.75px;text-indent:0.75px;">246</div>
<div class="v" style="left:997.63px;top:986px;width:118.1px;letter-spacing:0.3px;text-indent:0.3px;">5,769</div>
<div class="v" style="left:1115.73px;top:986px;width:106.25px;letter-spacing:0.75px;text-indent:0.75px;">2.09</div>
<div class="v" style="left:1221.98px;top:986px;width:118.24px;letter-spacing:0.75px;text-indent:0.75px;">387</div>
<div class="v" style="left:1340.22px;top:986px;width:118.1px;letter-spacing:0.3px;text-indent:0.3px;">1,172</div>
<div class="v" style="left:1458.32px;top:986px;width:106.25px;letter-spacing:0.75px;text-indent:0.75px;">1.44</div>
<div class="v" style="left:1564.57px;top:986px;width:118.24px;letter-spacing:0.75px;text-indent:0.75px;">54</div>
<div class="v" style="left:1682.81px;top:986px;width:118.1px;letter-spacing:0.3px;text-indent:0.3px;">6,942</div>
<div class="v" style="left:1800.91px;top:986px;width:106.25px;letter-spacing:0.75px;text-indent:0.75px;">1.98</div>
<div class="v" style="left:1907.16px;top:986px;width:117.84px;letter-spacing:0.75px;text-indent:0.75px;">441</div>
<div class="n" style="left:33.48px;top:1043px;letter-spacing:1.01px;">Horseshoe</div>
<div class="v" style="left:312.45px;top:1043px;width:118.1px;letter-spacing:0.75px;text-indent:0.75px;">0</div>
<div class="v" style="left:430.55px;top:1043px;width:106.25px;letter-spacing:0.75px;text-indent:0.75px;">0.00</div>
<div class="v" style="left:536.8px;top:1043px;width:118.24px;letter-spacing:0.75px;text-indent:0.75px;">0</div>
<div class="v" style="left:655.04px;top:1043px;width:118.1px;letter-spacing:0.3px;text-indent:0.3px;">1,266</div>
<div class="v" style="left:773.14px;top:1043px;width:106.25px;letter-spacing:0.75px;text-indent:0.75px;">2.09</div>
<div class="v" style="left:879.39px;top:1043px;width:118.24px;letter-spacing:0.75px;text-indent:0.75px;">85</div>
<div class="v" style="left:997.63px;top:1043px;width:118.1px;letter-spacing:0.3px;text-indent:0.3px;">1,266</div>
<div class="v" style="left:1115.73px;top:1043px;width:106.25px;letter-spacing:0.75px;text-indent:0.75px;">2.09</div>
<div class="v" style="left:1221.98px;top:1043px;width:118.24px;letter-spacing:0.75px;text-indent:0.75px;">85</div>
<div class="v" style="left:1340.22px;top:1043px;width:118.1px;letter-spacing:0.75px;text-indent:0.75px;">183</div>
<div class="v" style="left:1458.32px;top:1043px;width:106.25px;letter-spacing:0.75px;text-indent:0.75px;">1.43</div>
<div class="v" style="left:1564.57px;top:1043px;width:118.24px;letter-spacing:0.75px;text-indent:0.75px;">8</div>
<div class="v" style="left:1682.81px;top:1043px;width:118.1px;letter-spacing:0.3px;text-indent:0.3px;">1,449</div>
<div class="v" style="left:1800.91px;top:1043px;width:106.25px;letter-spacing:0.75px;text-indent:0.75px;">2.01</div>
<div class="v" style="left:1907.16px;top:1043px;width:117.84px;letter-spacing:0.75px;text-indent:0.75px;">93</div>
<div class="n" style="left:33.48px;top:1099px;letter-spacing:-0.15px;">Peak</div>
<div class="n" style="left:91.58px;top:1099px;letter-spacing:1.89px;">Hill</div>
<div class="v" style="left:312.45px;top:1099px;width:118.1px;letter-spacing:0.75px;text-indent:0.75px;">0</div>
<div class="v" style="left:430.55px;top:1099px;width:106.25px;letter-spacing:0.75px;text-indent:0.75px;">0.00</div>
<div class="v" style="left:536.8px;top:1099px;width:118.24px;letter-spacing:0.75px;text-indent:0.75px;">0</div>
<div class="v" style="left:655.04px;top:1099px;width:118.1px;letter-spacing:0.3px;text-indent:0.3px;">7,547</div>
<div class="v" style="left:773.14px;top:1099px;width:106.25px;letter-spacing:0.75px;text-indent:0.75px;">1.55</div>
<div class="v" style="left:879.39px;top:1099px;width:118.24px;letter-spacing:0.75px;text-indent:0.75px;">376</div>
<div class="v" style="left:997.63px;top:1099px;width:118.1px;letter-spacing:0.3px;text-indent:0.3px;">7,547</div>
<div class="v" style="left:1115.73px;top:1099px;width:106.25px;letter-spacing:0.75px;text-indent:0.75px;">1.55</div>
<div class="v" style="left:1221.98px;top:1099px;width:118.24px;letter-spacing:0.75px;text-indent:0.75px;">376</div>
<div class="v" style="left:1340.22px;top:1099px;width:118.1px;letter-spacing:0.3px;text-indent:0.3px;">1,838</div>
<div class="v" style="left:1458.32px;top:1099px;width:106.25px;letter-spacing:0.75px;text-indent:0.75px;">1.78</div>
<div class="v" style="left:1564.57px;top:1099px;width:118.24px;letter-spacing:0.75px;text-indent:0.75px;">105</div>
<div class="v" style="left:1682.81px;top:1099px;width:118.1px;letter-spacing:0.3px;text-indent:0.3px;">9,385</div>
<div class="v" style="left:1800.91px;top:1099px;width:106.25px;letter-spacing:0.75px;text-indent:0.75px;">1.60</div>
<div class="v" style="left:1907.16px;top:1099px;width:117.84px;letter-spacing:0.75px;text-indent:0.75px;">481</div>
<div class="n" style="left:33.48px;top:1156px;letter-spacing:-0.12px;">FGO</div>
<div class="n" style="left:87.85px;top:1156px;letter-spacing:1.08px;">Stockpiles</div>
<div class="v" style="left:312.45px;top:1156px;width:118.1px;letter-spacing:0.75px;text-indent:0.75px;">559</div>
<div class="v" style="left:430.55px;top:1156px;width:106.25px;letter-spacing:0.75px;text-indent:0.75px;">1.01</div>
<div class="v" style="left:536.8px;top:1156px;width:118.24px;letter-spacing:0.75px;text-indent:0.75px;">18</div>
<div class="v" style="left:655.04px;top:1156px;width:118.1px;letter-spacing:0.75px;text-indent:0.75px;">481</div>
<div class="v" style="left:773.14px;top:1156px;width:106.25px;letter-spacing:0.75px;text-indent:0.75px;">0.69</div>
<div class="v" style="left:879.39px;top:1156px;width:118.24px;letter-spacing:0.75px;text-indent:0.75px;">11</div>
<div class="v" style="left:997.63px;top:1156px;width:118.1px;letter-spacing:0.3px;text-indent:0.3px;">1,039</div>
<div class="v" style="left:1115.73px;top:1156px;width:106.25px;letter-spacing:0.75px;text-indent:0.75px;">0.86</div>
<div class="v" style="left:1221.98px;top:1156px;width:118.24px;letter-spacing:0.75px;text-indent:0.75px;">29</div>
<div class="v" style="left:1340.22px;top:1156px;width:118.1px;letter-spacing:0.75px;text-indent:0.75px;">16</div>
<div class="v" style="left:1458.32px;top:1156px;width:106.25px;letter-spacing:0.75px;text-indent:0.75px;">0.54</div>
<div class="v" style="left:1564.57px;top:1156px;width:118.24px;letter-spacing:0.75px;text-indent:0.75px;">0</div>
<div class="v" style="left:1682.81px;top:1156px;width:118.1px;letter-spacing:0.3px;text-indent:0.3px;">1,056</div>
<div class="v" style="left:1800.91px;top:1156px;width:106.25px;letter-spacing:0.75px;text-indent:0.75px;">0.86</div>
<div class="v" style="left:1907.16px;top:1156px;width:117.84px;letter-spacing:0.75px;text-indent:0.75px;">29</div>
<div class="tn" style="left:34.15px;top:1213px;letter-spacing:2.63px;">Total</div>
<div class="tv" style="left:312.45px;top:1213px;width:118.1px;">3,857</div>
<div class="tv" style="left:430.55px;top:1213px;width:106.25px;">2.64</div>
<div class="tv" style="left:536.8px;top:1213px;width:118.24px;">328</div>
<div class="tv" style="left:655.04px;top:1213px;width:118.1px;">42,937</div>
<div class="tv" style="left:773.14px;top:1213px;width:106.25px;">1.75</div>
<div class="tv" style="left:879.39px;top:1213px;width:118.24px;">2,421</div>
<div class="tv" style="left:997.63px;top:1213px;width:118.1px;">46,794</div>
<div class="tv" style="left:1115.73px;top:1213px;width:106.25px;">1.83</div>
<div class="tv" style="left:1221.98px;top:1213px;width:118.24px;">2,749</div>
<div class="tv" style="left:1340.22px;top:1213px;width:118.1px;">27,572</div>
<div class="tv" style="left:1458.32px;top:1213px;width:106.25px;">2.11</div>
<div class="tv" style="left:1564.57px;top:1213px;width:118.24px;">1,873</div>
<div class="tv" style="left:1682.81px;top:1213px;width:118.1px;">74,365</div>
<div class="tv" style="left:1800.91px;top:1213px;width:106.25px;">1.93</div>
<div class="tv" style="left:1907.16px;top:1213px;width:117.84px;">4,622</div>
<div class="h" style="left:17.36px;top:1287px;letter-spacing:2.17px;">SOUTHERN</div>
<div class="h" style="left:248.33px;top:1287px;letter-spacing:1.74px;">GOLDFIELDS</div>
<div class="h" style="left:510.33px;top:1287px;letter-spacing:1.54px;">GOLD</div>
<div class="h" style="left:632.44px;top:1287px;letter-spacing:1.94px;">OPERATIONS</div>
<div class="h" style="left:17.07px;top:1350px;letter-spacing:2.36px;">MINERAL</div>
<div class="h" style="left:208.87px;top:1350px;letter-spacing:1.43px;">RESOURCE</div>
<div class="h" style="left:436.46px;top:1350px;letter-spacing:1.32px;">STATEMENT</div>
<div class="h" style="left:675.24px;top:1350px;letter-spacing:0px;">–</div>
<div class="h" style="left:705.77px;top:1350px;letter-spacing:2.35px;">ROUNDED</div>
<div class="h" style="left:917.47px;top:1350px;letter-spacing:-0px;">FOR</div>
<div class="h" style="left:1008.37px;top:1350px;letter-spacing:1.67px;">REPORTING</div>
<div class="h" style="left:1248.05px;top:1350px;letter-spacing:3.85px;">30/06/2025</div>
<div class="g" style="left:312.45px;top:1464px;width:342.59px;letter-spacing:2.1px;text-indent:2.1px;">Measured</div>
<div class="g" style="left:655.04px;top:1464px;width:342.59px;letter-spacing:2.46px;text-indent:2.46px;">Indicated</div>
<div class="g" style="left:997.63px;top:1431px;width:342.59px;letter-spacing:2.1px;text-indent:2.1px;">Measured</div>
<div class="g" style="left:997.63px;top:1464px;width:342.59px;letter-spacing:1.79px;text-indent:1.79px;">and Indicated</div>
<div class="g" style="left:1340.22px;top:1464px;width:342.59px;letter-spacing:2.19px;text-indent:2.19px;">Inferred</div>
<div class="g" style="left:1682.81px;top:1464px;width:342.19px;letter-spacing:2.45px;text-indent:2.45px;">Total</div>
<div class="p" style="left:33.42px;top:1572px;letter-spacing:0.73px;">Project</div>
<div class="z" style="left:312.45px;top:1553px;width:118.1px;letter-spacing:0.36px;text-indent:0.36px;">Tonnes</div>
<div class="y" style="left:312.45px;top:1578px;width:118.1px;letter-spacing:1.5px;text-indent:1.5px;">('000s)</div>
<div class="z" style="left:430.55px;top:1578px;width:106.25px;letter-spacing:0.95px;text-indent:0.95px;">Grade</div>
<div class="z" style="left:536.8px;top:1528px;width:118.24px;letter-spacing:0.99px;text-indent:0.99px;">Ounces</div>
<div class="z" style="left:536.8px;top:1553px;width:118.24px;letter-spacing:0.78px;text-indent:0.78px;">Au</div>
<div class="y" style="left:536.8px;top:1578px;width:118.24px;letter-spacing:1.5px;text-indent:1.5px;">('000s)</div>
<div class="z" style="left:655.04px;top:1553px;width:118.1px;letter-spacing:0.36px;text-indent:0.36px;">Tonnes</div>
<div class="y" style="left:655.04px;top:1578px;width:118.1px;letter-spacing:1.5px;text-indent:1.5px;">('000s)</div>
<div class="z" style="left:773.14px;top:1578px;width:106.25px;letter-spacing:0.95px;text-indent:0.95px;">Grade</div>
<div class="z" style="left:879.39px;top:1528px;width:118.24px;letter-spacing:0.99px;text-indent:0.99px;">Ounces</div>
<div class="z" style="left:879.39px;top:1553px;width:118.24px;letter-spacing:0.78px;text-indent:0.78px;">Au</div>
<div class="y" style="left:879.39px;top:1578px;width:118.24px;letter-spacing:1.5px;text-indent:1.5px;">('000s)</div>
<div class="z" style="left:997.63px;top:1553px;width:118.1px;letter-spacing:0.36px;text-indent:0.36px;">Tonnes</div>
<div class="y" style="left:997.63px;top:1578px;width:118.1px;letter-spacing:1.5px;text-indent:1.5px;">('000s)</div>
<div class="z" style="left:1115.73px;top:1578px;width:106.25px;letter-spacing:0.95px;text-indent:0.95px;">Grade</div>
<div class="z" style="left:1221.98px;top:1528px;width:118.24px;letter-spacing:0.99px;text-indent:0.99px;">Ounces</div>
<div class="z" style="left:1221.98px;top:1553px;width:118.24px;letter-spacing:0.78px;text-indent:0.78px;">Au</div>
<div class="y" style="left:1221.98px;top:1578px;width:118.24px;letter-spacing:1.5px;text-indent:1.5px;">('000s)</div>
<div class="z" style="left:1340.22px;top:1553px;width:118.1px;letter-spacing:0.36px;text-indent:0.36px;">Tonnes</div>
<div class="y" style="left:1340.22px;top:1578px;width:118.1px;letter-spacing:1.5px;text-indent:1.5px;">('000s)</div>
<div class="z" style="left:1458.32px;top:1578px;width:106.25px;letter-spacing:0.95px;text-indent:0.95px;">Grade</div>
<div class="z" style="left:1564.57px;top:1528px;width:118.24px;letter-spacing:0.99px;text-indent:0.99px;">Ounces</div>
<div class="z" style="left:1564.57px;top:1553px;width:118.24px;letter-spacing:0.78px;text-indent:0.78px;">Au</div>
<div class="y" style="left:1564.57px;top:1578px;width:118.24px;letter-spacing:1.5px;text-indent:1.5px;">('000s)</div>
<div class="z" style="left:1682.81px;top:1553px;width:118.1px;letter-spacing:0.36px;text-indent:0.36px;">Tonnes</div>
<div class="y" style="left:1682.81px;top:1578px;width:118.1px;letter-spacing:1.5px;text-indent:1.5px;">('000s)</div>
<div class="z" style="left:1800.91px;top:1578px;width:106.25px;letter-spacing:0.95px;text-indent:0.95px;">Grade</div>
<div class="z" style="left:1907.16px;top:1528px;width:117.84px;letter-spacing:0.99px;text-indent:0.99px;">Ounces</div>
<div class="z" style="left:1907.16px;top:1553px;width:117.84px;letter-spacing:0.78px;text-indent:0.78px;">Au</div>
<div class="y" style="left:1907.16px;top:1578px;width:117.84px;letter-spacing:1.5px;text-indent:1.5px;">('000s)</div>
<div class="n" style="left:33.28px;top:1631px;letter-spacing:0.67px;">HGO</div>
<div class="n" style="left:93.53px;top:1631px;letter-spacing:1.32px;">Central</div>
<div class="v" style="left:312.45px;top:1631px;width:118.1px;letter-spacing:0.75px;text-indent:0.75px;">931</div>
<div class="v" style="left:430.55px;top:1631px;width:106.25px;letter-spacing:0.75px;text-indent:0.75px;">2.94</div>
<div class="v" style="left:536.8px;top:1631px;width:118.24px;letter-spacing:0.75px;text-indent:0.75px;">88</div>
<div class="v" style="left:655.04px;top:1631px;width:118.1px;letter-spacing:0.3px;text-indent:0.3px;">2,442</div>
<div class="v" style="left:773.14px;top:1631px;width:106.25px;letter-spacing:0.75px;text-indent:0.75px;">2.74</div>
<div class="v" style="left:879.39px;top:1631px;width:118.24px;letter-spacing:0.75px;text-indent:0.75px;">215</div>
<div class="v" style="left:997.63px;top:1631px;width:118.1px;letter-spacing:0.3px;text-indent:0.3px;">3,373</div>
<div class="v" style="left:1115.73px;top:1631px;width:106.25px;letter-spacing:0.75px;text-indent:0.75px;">2.80</div>
<div class="v" style="left:1221.98px;top:1631px;width:118.24px;letter-spacing:0.75px;text-indent:0.75px;">303</div>
<div class="v" style="left:1340.22px;top:1631px;width:118.1px;letter-spacing:0.3px;text-indent:0.3px;">1,519</div>
<div class="v" style="left:1458.32px;top:1631px;width:106.25px;letter-spacing:0.75px;text-indent:0.75px;">2.91</div>
<div class="v" style="left:1564.57px;top:1631px;width:118.24px;letter-spacing:0.75px;text-indent:0.75px;">142</div>
<div class="v" style="left:1682.81px;top:1631px;width:118.1px;letter-spacing:0.3px;text-indent:0.3px;">4,892</div>
<div class="v" style="left:1800.91px;top:1631px;width:106.25px;letter-spacing:0.75px;text-indent:0.75px;">2.83</div>
<div class="v" style="left:1907.16px;top:1631px;width:117.84px;letter-spacing:0.75px;text-indent:0.75px;">445</div>
<div class="n" style="left:33.28px;top:1688px;letter-spacing:0.67px;">HGO</div>
<div class="n" style="left:93.53px;top:1688px;letter-spacing:0.63px;">Greater</div>
<div class="v" style="left:312.45px;top:1688px;width:118.1px;letter-spacing:0.75px;text-indent:0.75px;">414</div>
<div class="v" style="left:430.55px;top:1688px;width:106.25px;letter-spacing:0.75px;text-indent:0.75px;">3.16</div>
<div class="v" style="left:536.8px;top:1688px;width:118.24px;letter-spacing:0.75px;text-indent:0.75px;">42</div>
<div class="v" style="left:655.04px;top:1688px;width:118.1px;letter-spacing:0.3px;text-indent:0.3px;">2,871</div>
<div class="v" style="left:773.14px;top:1688px;width:106.25px;letter-spacing:0.75px;text-indent:0.75px;">2.78</div>
<div class="v" style="left:879.39px;top:1688px;width:118.24px;letter-spacing:0.75px;text-indent:0.75px;">257</div>
<div class="v" style="left:997.63px;top:1688px;width:118.1px;letter-spacing:0.3px;text-indent:0.3px;">3,286</div>
<div class="v" style="left:1115.73px;top:1688px;width:106.25px;letter-spacing:0.75px;text-indent:0.75px;">2.83</div>
<div class="v" style="left:1221.98px;top:1688px;width:118.24px;letter-spacing:0.75px;text-indent:0.75px;">299</div>
<div class="v" style="left:1340.22px;top:1688px;width:118.1px;letter-spacing:0.3px;text-indent:0.3px;">2,128</div>
<div class="v" style="left:1458.32px;top:1688px;width:106.25px;letter-spacing:0.75px;text-indent:0.75px;">2.29</div>
<div class="v" style="left:1564.57px;top:1688px;width:118.24px;letter-spacing:0.75px;text-indent:0.75px;">157</div>
<div class="v" style="left:1682.81px;top:1688px;width:118.1px;letter-spacing:0.3px;text-indent:0.3px;">5,414</div>
<div class="v" style="left:1800.91px;top:1688px;width:106.25px;letter-spacing:0.75px;text-indent:0.75px;">2.62</div>
<div class="v" style="left:1907.16px;top:1688px;width:117.84px;letter-spacing:0.75px;text-indent:0.75px;">456</div>
<div class="n" style="left:33.28px;top:1745px;letter-spacing:1.48px;">Mt</div>
<div class="n" style="left:66.88px;top:1745px;letter-spacing:0.83px;">Henry</div>
<div class="v" style="left:312.45px;top:1745px;width:118.1px;letter-spacing:0.3px;text-indent:0.3px;">11,042</div>
<div class="v" style="left:430.55px;top:1745px;width:106.25px;letter-spacing:0.75px;text-indent:0.75px;">1.19</div>
<div class="v" style="left:536.8px;top:1745px;width:118.24px;letter-spacing:0.75px;text-indent:0.75px;">424</div>
<div class="v" style="left:655.04px;top:1745px;width:118.1px;letter-spacing:0.3px;text-indent:0.3px;">10,172</div>
<div class="v" style="left:773.14px;top:1745px;width:106.25px;letter-spacing:0.75px;text-indent:0.75px;">1.16</div>
<div class="v" style="left:879.39px;top:1745px;width:118.24px;letter-spacing:0.75px;text-indent:0.75px;">378</div>
<div class="v" style="left:997.63px;top:1745px;width:118.1px;letter-spacing:0.3px;text-indent:0.3px;">21,214</div>
<div class="v" style="left:1115.73px;top:1745px;width:106.25px;letter-spacing:0.75px;text-indent:0.75px;">1.18</div>
<div class="v" style="left:1221.98px;top:1745px;width:118.24px;letter-spacing:0.75px;text-indent:0.75px;">802</div>
<div class="v" style="left:1340.22px;top:1745px;width:118.1px;letter-spacing:0.3px;text-indent:0.3px;">2,565</div>
<div class="v" style="left:1458.32px;top:1745px;width:106.25px;letter-spacing:0.75px;text-indent:0.75px;">1.28</div>
<div class="v" style="left:1564.57px;top:1745px;width:118.24px;letter-spacing:0.75px;text-indent:0.75px;">106</div>
<div class="v" style="left:1682.81px;top:1745px;width:118.1px;letter-spacing:0.3px;text-indent:0.3px;">23,779</div>
<div class="v" style="left:1800.91px;top:1745px;width:106.25px;letter-spacing:0.75px;text-indent:0.75px;">1.19</div>
<div class="v" style="left:1907.16px;top:1745px;width:117.84px;letter-spacing:0.75px;text-indent:0.75px;">907</div>
<div class="n" style="left:33.28px;top:1801px;letter-spacing:0.67px;">HGO</div>
<div class="n" style="left:92.95px;top:1801px;letter-spacing:0.99px;">Stockpiles</div>
<div class="v" style="left:312.45px;top:1801px;width:118.1px;letter-spacing:0.3px;text-indent:0.3px;">1,162</div>
<div class="v" style="left:430.55px;top:1801px;width:106.25px;letter-spacing:0.75px;text-indent:0.75px;">0.77</div>
<div class="v" style="left:536.8px;top:1801px;width:118.24px;letter-spacing:0.75px;text-indent:0.75px;">29</div>
<div class="v" style="left:655.04px;top:1801px;width:118.1px;letter-spacing:0.75px;text-indent:0.75px;">276</div>
<div class="v" style="left:773.14px;top:1801px;width:106.25px;letter-spacing:0.75px;text-indent:0.75px;">0.74</div>
<div class="v" style="left:879.39px;top:1801px;width:118.24px;letter-spacing:0.75px;text-indent:0.75px;">7</div>
<div class="v" style="left:997.63px;top:1801px;width:118.1px;letter-spacing:0.3px;text-indent:0.3px;">1,439</div>
<div class="v" style="left:1115.73px;top:1801px;width:106.25px;letter-spacing:0.75px;text-indent:0.75px;">0.77</div>
<div class="v" style="left:1221.98px;top:1801px;width:118.24px;letter-spacing:0.75px;text-indent:0.75px;">36</div>
<div class="v" style="left:1340.22px;top:1801px;width:118.1px;letter-spacing:0.75px;text-indent:0.75px;">0</div>
<div class="v" style="left:1458.32px;top:1801px;width:106.25px;letter-spacing:0.75px;text-indent:0.75px;">0.00</div>
<div class="v" style="left:1564.57px;top:1801px;width:118.24px;letter-spacing:0.75px;text-indent:0.75px;">0</div>
<div class="v" style="left:1682.81px;top:1801px;width:118.1px;letter-spacing:0.3px;text-indent:0.3px;">1,439</div>
<div class="v" style="left:1800.91px;top:1801px;width:106.25px;letter-spacing:0.75px;text-indent:0.75px;">0.77</div>
<div class="v" style="left:1907.16px;top:1801px;width:117.84px;letter-spacing:0.75px;text-indent:0.75px;">36</div>
<div class="n" style="left:33.28px;top:1858px;letter-spacing:0.58px;">BHO</div>
<div class="n" style="left:90.25px;top:1858px;letter-spacing:1.05px;">Stockpiles</div>
<div class="v" style="left:312.45px;top:1858px;width:118.1px;letter-spacing:0.75px;text-indent:0.75px;">9</div>
<div class="v" style="left:430.55px;top:1858px;width:106.25px;letter-spacing:0.75px;text-indent:0.75px;">1.88</div>
<div class="v" style="left:536.8px;top:1858px;width:118.24px;letter-spacing:0.75px;text-indent:0.75px;">1</div>
<div class="v" style="left:655.04px;top:1858px;width:118.1px;letter-spacing:0.75px;text-indent:0.75px;">0</div>
<div class="v" style="left:773.14px;top:1858px;width:106.25px;letter-spacing:0.75px;text-indent:0.75px;">0.00</div>
<div class="v" style="left:879.39px;top:1858px;width:118.24px;letter-spacing:0.75px;text-indent:0.75px;">0</div>
<div class="v" style="left:997.63px;top:1858px;width:118.1px;letter-spacing:0.75px;text-indent:0.75px;">9</div>
<div class="v" style="left:1115.73px;top:1858px;width:106.25px;letter-spacing:0.75px;text-indent:0.75px;">1.88</div>
<div class="v" style="left:1221.98px;top:1858px;width:118.24px;letter-spacing:0.75px;text-indent:0.75px;">1</div>
<div class="v" style="left:1340.22px;top:1858px;width:118.1px;letter-spacing:0.75px;text-indent:0.75px;">0</div>
<div class="v" style="left:1458.32px;top:1858px;width:106.25px;letter-spacing:0.75px;text-indent:0.75px;">0.00</div>
<div class="v" style="left:1564.57px;top:1858px;width:118.24px;letter-spacing:0.75px;text-indent:0.75px;">0</div>
<div class="v" style="left:1682.81px;top:1858px;width:118.1px;letter-spacing:0.75px;text-indent:0.75px;">9</div>
<div class="v" style="left:1800.91px;top:1858px;width:106.25px;letter-spacing:0.75px;text-indent:0.75px;">1.88</div>
<div class="v" style="left:1907.16px;top:1858px;width:117.84px;letter-spacing:0.75px;text-indent:0.75px;">1</div>
<div class="tn" style="left:34.15px;top:1915px;letter-spacing:2.63px;">Total</div>
<div class="tv" style="left:312.45px;top:1915px;width:118.1px;">13,559</div>
<div class="tv" style="left:430.55px;top:1915px;width:106.25px;">1.34</div>
<div class="tv" style="left:536.8px;top:1915px;width:118.24px;">583</div>
<div class="tv" style="left:655.04px;top:1915px;width:118.1px;">15,761</div>
<div class="tv" style="left:773.14px;top:1915px;width:106.25px;">1.69</div>
<div class="tv" style="left:879.39px;top:1915px;width:118.24px;">856</div>
<div class="tv" style="left:997.63px;top:1915px;width:118.1px;">29,320</div>
<div class="tv" style="left:1115.73px;top:1915px;width:106.25px;">1.53</div>
<div class="tv" style="left:1221.98px;top:1915px;width:118.24px;">1,440</div>
<div class="tv" style="left:1340.22px;top:1915px;width:118.1px;">6,212</div>
<div class="tv" style="left:1458.32px;top:1915px;width:106.25px;">2.03</div>
<div class="tv" style="left:1564.57px;top:1915px;width:118.24px;">405</div>
<div class="tv" style="left:1682.81px;top:1915px;width:118.1px;">35,532</div>
<div class="tv" style="left:1800.91px;top:1915px;width:106.25px;">1.61</div>
<div class="tv" style="left:1907.16px;top:1915px;width:117.84px;">1,844</div>
</div>
</body>
</html>
